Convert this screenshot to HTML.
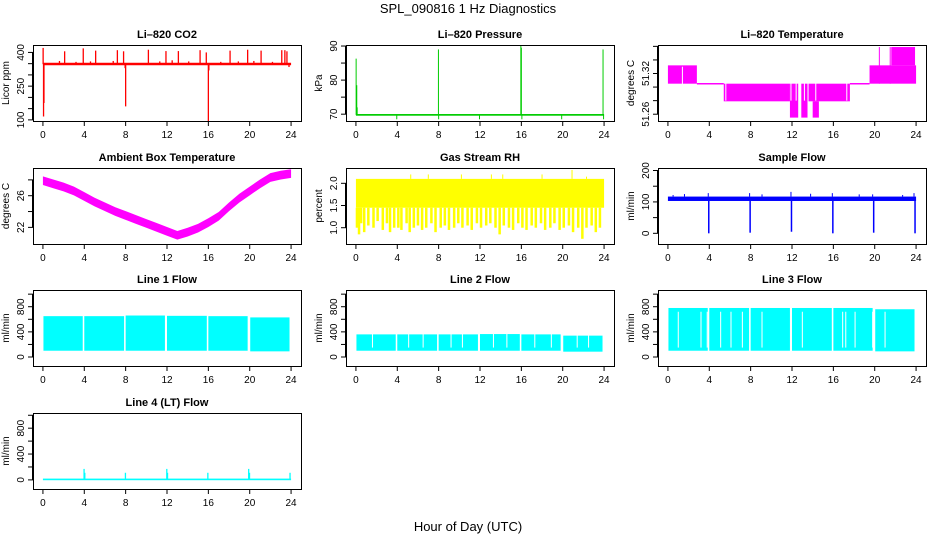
<!DOCTYPE html>
<html><head><meta charset="utf-8"><style>
html,body{margin:0;padding:0;background:#fff}
svg{display:block}
text{font-family:"Liberation Sans",sans-serif;fill:#000}
</style></head><body>
<svg id="chart" width="936" height="540" viewBox="0 0 936 540" xmlns="http://www.w3.org/2000/svg">
<text x="468" y="13" font-size="13" text-anchor="middle">SPL_090816  1 Hz Diagnostics</text>
<text x="468" y="531" font-size="13" text-anchor="middle">Hour of Day (UTC)</text>
</svg>
<script>
// ---- shared x axis ----
const xTicks = [0,4,8,12,16,20,24];
// ---- CO2 ----
const co2BandHours = [0,24];
const co2BandLow = [343,343];
const co2BandHigh = [354,354];
const co2SpikeHours = [0.02,0.06,0.1,1.6,2.1,3.2,3.9,4.6,5.1,6.8,7.2,7.8,7.95,8.0,10.2,11.3,11.9,12.5,13.1,14.1,15.2,15.8,16.0,16.05,17.2,18.1,18.9,19.8,20.4,21.1,22.2,23.1,23.4,23.6,23.8];
const co2SpikeValues = [420,115,175,362,405,358,418,360,408,362,410,405,330,160,412,360,406,365,406,360,410,400,95,320,358,408,360,412,362,408,358,410,410,405,335];
// ---- Pressure ----
const presBase = 69.8;
const presSpikeHours = [0.02,0.08,0.12,3.95,7.98,8.0,11.95,15.95,16.0,16.05,19.9,23.9,23.95];
const presSpikeValues = [86.3,78.5,72,68.5,89,68.5,68.5,90,89.5,68.5,68.5,89,68.5];
// ---- Li-820 temperature (segments) ----
const tSegStart = [0,2.8,5.4,11.8,12.9,13.6,14.0,17.6,19.5,21.6,20.4,21.45];
const tSegEnd = [2.8,5.4,11.8,12.6,13.5,17.6,14.6,19.5,24.0,23.9,20.45,21.5];
const tSegLow = [51.305,51.304,51.279,51.255,51.255,51.279,51.255,51.304,51.305,51.332,51.305,51.305];
const tSegHigh = [51.332,51.306,51.305,51.305,51.305,51.305,51.279,51.306,51.332,51.359,51.359,51.359];
const tGapHours = [1.4,5.6,11.9,12.4,13.2,14.3,17.3];
// ---- Ambient box temperature ----
const ambHours = [0,1,2,3,4,5,6,7,8,9,10,11,12,13,14,15,16,17,18,19,20,21,22,23,24];
const ambValues = [27.9,27.5,27.1,26.6,25.9,25.2,24.6,24.0,23.5,23.0,22.5,22.0,21.5,21.0,21.4,21.9,22.6,23.4,24.6,25.7,26.6,27.5,28.3,28.6,28.8];
// ---- Gas stream RH ----
const rhBandLow = 1.45, rhBandHigh = 2.1;
const rhLowHours = [0.1,0.3,0.5,0.8,1.2,1.7,2.1,2.6,3.0,3.3,3.7,4.1,4.4,4.9,5.2,5.6,6.0,6.4,6.8,7.3,7.7,8.2,8.6,9.0,9.5,9.9,10.3,10.8,11.2,11.7,12.1,12.6,13.0,13.5,13.9,14.3,14.8,15.2,15.7,16.1,16.5,17.0,17.4,17.9,18.3,18.8,19.2,19.7,20.1,20.6,21.0,21.5,21.9,22.3,22.8,23.2,23.6];
const rhLowValues = [1.0,0.85,1.1,0.9,1.05,1.0,1.15,0.95,1.1,0.9,1.0,1.0,0.95,1.1,0.9,1.0,1.05,0.95,1.0,1.1,0.9,1.0,1.05,0.95,1.0,1.1,1.0,1.05,0.95,1.1,1.0,1.05,1.1,1.0,0.85,1.05,1.0,0.95,1.1,1.0,0.95,1.05,1.0,1.1,0.95,1.0,1.1,0.95,1.0,1.05,0.9,1.0,0.75,1.0,1.05,0.9,1.0];
const rhHighHours = [5.3,7.0,10.2,13.1,14.2,18.0,20.9,22.3];
const rhHighValues = [2.2,2.2,2.2,2.2,2.2,2.2,2.3,2.15];
// ---- Sample flow ----
const sfBandLow = 103, sfBandHigh = 117;
const sfDipHours = [3.95,7.95,11.95,15.95,19.9,23.9];
const sfDipValues = [0,2,5,0,2,0];
const sfSpikeHours = [0.5,1.6,3.9,7.9,9.1,11.9,13.8,15.9,18.5,19.8,22.7,23.8];
const sfSpikeValues = [122,125,128,128,124,132,126,128,124,124,122,128];
// ---- Line flows ----
const flowSegStart = [0.05,4.0,8.0,12.0,16.0,20.05];
const flowSegEnd = [3.85,7.85,11.8,15.85,19.8,23.85];
const line1High = [650,650,660,655,650,630];
const line1Low = [100,100,100,100,100,90];
const line2High = [360,360,360,365,360,340];
const line2Low = [100,100,100,100,100,85];
const line3High = [780,780,780,780,780,760];
const line3Low = [100,100,100,100,100,90];
const line3Gaps = [1.0,3.2,3.8,5.1,6.1,7.2,9.1,13.0,16.9,17.2,18.1,19.8,21.0];
const line2Gaps = [1.6,5.1,6.5,9.2,10.3,13.3,14.6,17.3,18.9,21.4,22.5];
const line4Base = [0,24];
const line4SpikeHours = [3.98,4.05,7.98,11.98,12.05,15.95,19.9,19.98,23.9];
const line4SpikeValues = [170,110,110,170,110,110,170,110,110];

const NS = "http://www.w3.org/2000/svg";
const svg = document.getElementById('chart');
const colL = [33,346,658], rowT = [45,168,290,413], PW = 268, PH = 76;
function mk(tag, attrs, parent){const e=document.createElementNS(NS,tag);for(const k in attrs)e.setAttribute(k,attrs[k]);(parent||svg).appendChild(e);return e;}

function panel(name, col, row, title, ylab, ymin, ymax, yticks, ylabels, dec){
  const g = mk('g',{});
  
  
  const L=colL[col], T=rowT[row];
  const sx = h => L + (h + 0.96) / 25.92 * PW;
  const sy = v => T + PH - (v - ymin) / (ymax - ymin) * PH;
  const t = mk('text',{x:L+PW/2,y:T-7,'font-size':11,'font-weight':'bold','text-anchor':'middle'},g);
  t.textContent = title;
  
  
  const yl = mk('text',{x:0,y:0,'font-size':10,'text-anchor':'middle',transform:`translate(${L-24},${T+PH/2}) rotate(-90)`},g);
  yl.textContent = ylab;
  
  
  const axis = mk('g',{stroke:'#000','stroke-width':1,fill:'none'},g);
  
  
  mk('line',{x1:sx(xTicks[0]),x2:sx(xTicks[xTicks.length-1]),y1:T+PH+0.5,y2:T+PH+0.5},axis);
  xTicks.forEach(h=>{
    mk('line',{x1:sx(h),x2:sx(h),y1:T+PH,y2:T+PH+5},axis);
    const tl = mk('text',{x:sx(h),y:T+PH+17,'font-size':10,'text-anchor':'middle'},g);
    tl.textContent = h;
    
    
  });
  mk('line',{x1:L-0.5,x2:L-0.5,y1:sy(yticks[0]),y2:sy(yticks[yticks.length-1])},axis);
  yticks.forEach(v=>mk('line',{x1:L-5,x2:L,y1:sy(v),y2:sy(v)},axis));
  ylabels.forEach(v=>{
    const tl = mk('text',{x:0,y:0,'font-size':10,'text-anchor':'middle',transform:`translate(${L-9},${sy(v)}) rotate(-90)`},g);
    tl.textContent = dec ? v.toFixed(dec) : v;
    
    
  });
  const marks = mk('g',{},g);
  
  
  const box = mk('rect',{x:L+0.5,y:T+0.5,width:PW,height:PH,fill:'none',stroke:'#000'},g);
  
  
  g.appendChild(box);
  return {sx, sy, marks};
}
function vline(p, h, v1, v2, color, w){
  const l = mk('line',{x1:p.sx(h),x2:p.sx(h),y1:p.sy(v1),y2:p.sy(v2),stroke:color,'stroke-width':w||1},p.marks);
  
  
}
function band(p, h1, h2, lo, hi, color){
  const r = mk('rect',{x:p.sx(h1),y:p.sy(hi),width:Math.max(1,p.sx(h2)-p.sx(h1)),height:Math.max(1.5,p.sy(lo)-p.sy(hi)),fill:color},p.marks);
  
  
}
function r(a,b,s){const o=[];for(let v=a;v<=b+1e-9;v+=s)o.push(+v.toFixed(3));return o;}

// CO2
let p = panel('co2-panel',0,0,'Li–820 CO2','Licor ppm',95,433,r(100,400,50),[100,250,400]);
band(p, co2BandHours[0], co2BandHours[1], co2BandLow[0], co2BandHigh[0], '#ff0000');
co2SpikeHours.forEach((h,i)=>vline(p,h,348,co2SpikeValues[i],'#ff0000',1.3));

// Pressure
p = panel('pressure-panel',1,0,'Li–820 Pressure','kPa',68,90.3,r(70,90,5),[70,80,90]);
band(p,0,24,presBase-0.25,presBase+0.25,'#00cc00');
presSpikeHours.forEach((h,i)=>vline(p,h,presBase,presSpikeValues[i],'#00cc00',1));

// Li-820 temperature
p = panel('licor-temp-panel',2,0,'Li–820 Temperature','degrees C',51.25,51.362,[51.26,51.28,51.30,51.32,51.34,51.36],[51.26,51.32],2);
tSegStart.forEach((s,i)=>band(p,s,tSegEnd[i],tSegLow[i],tSegHigh[i],'#ff00ff'));
tGapHours.forEach(h=>vline(p,h,51.28,51.33,'#ffffff',1));

// Ambient
p = panel('ambient-temp-panel',0,1,'Ambient Box Temperature','degrees C',19.9,29.5,[22,24,26,28],[22,26]);
{
  const up = ambHours.map((h,i)=>`${p.sx(h)},${p.sy(ambValues[i]+0.55)}`);
  const dn = ambHours.map((h,i)=>`${p.sx(h)},${p.sy(ambValues[i]-0.55)}`).reverse();
  const poly = mk('polygon',{points:up.concat(dn).join(' '),fill:'#ff00ff'},p.marks);
  
  
}

// RH
p = panel('rh-panel',1,1,'Gas Stream RH','percent',0.633,2.345,[1.0,1.5,2.0],[1.0,1.5,2.0],1);
band(p,0,24,rhBandLow,rhBandHigh,'#ffff00');
rhLowHours.forEach((h,i)=>{vline(p,h,rhBandLow,rhLowValues[i],'#ffff00',2.5);});
rhHighHours.forEach((h,i)=>vline(p,h,rhBandHigh,rhHighValues[i],'#ffff00',1));

// Sample flow
p = panel('sample-flow-panel',2,1,'Sample Flow','ml/min',-34,208,[0,50,100,150,200],[0,100,200]);
band(p,0,24,sfBandLow,sfBandHigh,'#0000ff');
sfDipHours.forEach((h,i)=>vline(p,h,sfBandLow,sfDipValues[i],'#0000ff',1.5));
sfSpikeHours.forEach((h,i)=>vline(p,h,sfBandHigh,sfSpikeValues[i],'#0000ff',1));

// Line flows
const flowTicks = [0,200,400,600,800,1000];
function flowPanel(name,col,row,title,hi,lo,gaps,top){
  const q = panel(name,col,row,title,'ml/min',-143,1066,flowTicks,[0,400,800]);
  flowSegStart.forEach((s,i)=>band(q,s,flowSegEnd[i],lo[i],hi[i],'#00ffff'));
  gaps.forEach(h=>vline(q,h,150,top,'#ffffff',1));
  return q;
}
flowPanel('line1-flow-panel',0,2,'Line 1 Flow',line1High,line1Low,[],600);
flowPanel('line2-flow-panel',1,2,'Line 2 Flow',line2High,line2Low,line2Gaps,380);
flowPanel('line3-flow-panel',2,2,'Line 3 Flow',line3High,line3Low,line3Gaps,720);

p = panel('line4-flow-panel',0,3,'Line 4 (LT) Flow','ml/min',-141,1035,flowTicks,[0,400,800]);
band(p,line4Base[0],line4Base[1],-5,20,'#00ffff');
line4SpikeHours.forEach((h,i)=>vline(p,h,10,line4SpikeValues[i],'#00ffff',1.3));
</script>
</body></html>
